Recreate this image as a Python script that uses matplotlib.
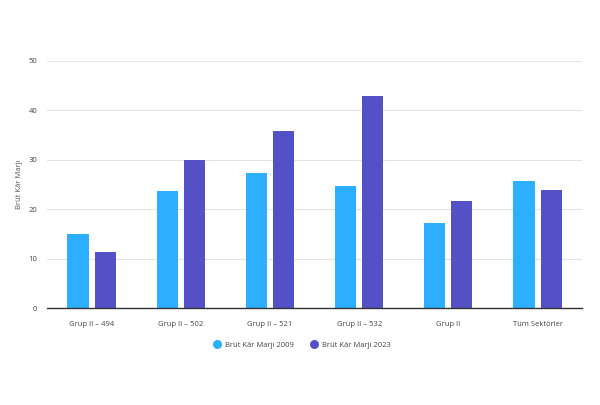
import matplotlib
matplotlib.use("Agg")
import matplotlib.pyplot as plt
import numpy as np
from matplotlib.lines import Line2D

categories = ["Grup II – 494", "Grup II – 502", "Grup II – 521", "Grup II – 532", "Grup II", "Tüm Sektörler"]
margin_2009 = [15.0, 23.7, 27.3, 24.7, 17.2, 25.7]
margin_2023 = [11.3, 30.0, 35.8, 42.8, 21.7, 23.9]
series_names = ["Brüt Kâr Marjı 2009", "Brüt Kâr Marjı 2023"]
colors = ["#2BAFFE", "#5451C6"]

plt.rcParams['font.family'] = ['Open Sans', 'DejaVu Sans']

fig = plt.figure(figsize=(6, 4.05), dpi=100)
ax = fig.add_axes([0.0783, 0.2395, 0.892, 0.6105])

x = np.arange(len(categories))
w = 0.236
off = 0.152
ax.bar(x - off, margin_2009, width=w, color=colors[0], zorder=3)
ax.bar(x + off, margin_2023, width=w, color=colors[1], zorder=3)

ax.set_xlim(-0.5, len(categories) - 0.5)
ax.set_ylim(0, 50)
ax.set_yticks([0, 10, 20, 30, 40, 50])
ax.set_xticks(x)
ax.set_xticklabels(categories)
ax.tick_params(axis='both', length=0, labelsize=5.5, colors="#444444")
ax.tick_params(axis='x', pad=9)
ax.tick_params(axis='y', pad=7)
ax.grid(axis='y', color="#e3e3e3", linewidth=0.8, zorder=0)
for s in ["top", "right", "left"]:
    ax.spines[s].set_visible(False)
ax.spines["bottom"].set_color("#333333")
ax.spines["bottom"].set_linewidth(1.0)
ax.spines["bottom"].set_zorder(4)

ax.set_ylabel("Brüt Kâr Marjı", fontsize=5.5, color="#555555")
ax.yaxis.set_label_coords(-0.045, 0.5)

handles = [Line2D([0], [0], marker='o', linestyle='', markersize=5.5, color=c) for c in colors]
fig.legend(handles, series_names, loc='center', bbox_to_anchor=(0.5, 0.148), ncol=2,
           frameon=False, fontsize=5.5, handletextpad=0.1, columnspacing=1.6,
           labelcolor="#444444")

fig.savefig("out.png", dpi=100)
